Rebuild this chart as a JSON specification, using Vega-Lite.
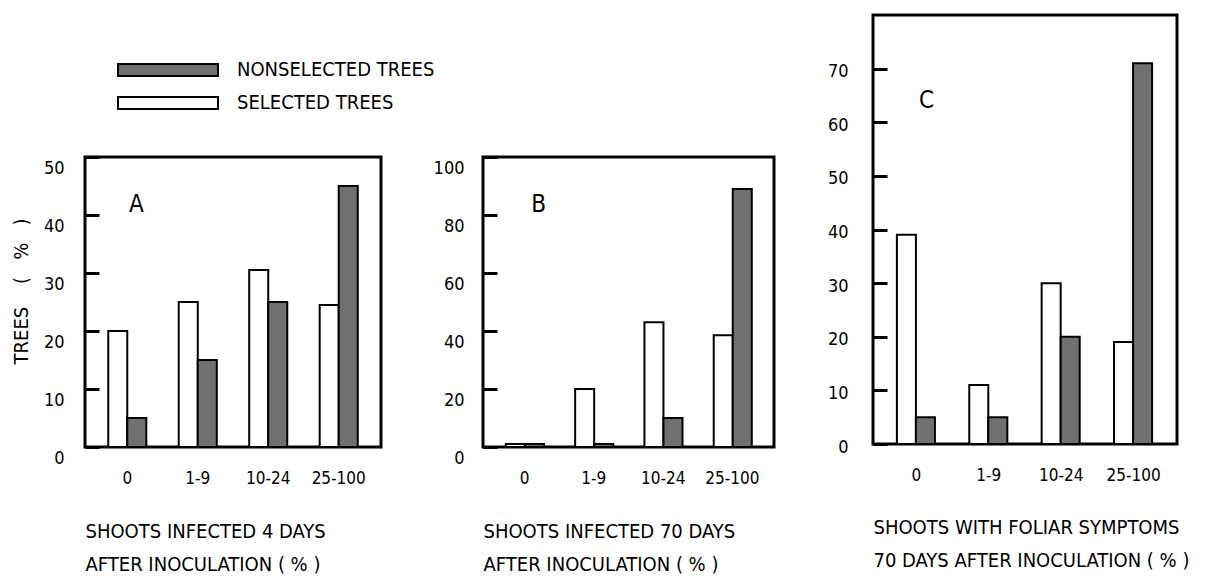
{
  "$schema": "https://vega.github.io/schema/vega-lite/v6.json",
  "padding": {"left": 9, "top": 13, "right": 5, "bottom": 5},
  "background": "white",
  "datasets": {
    "bars": [
      {"panel": "A", "cat": "0", "series": "SELECTED TREES", "pct": 20},
      {"panel": "A", "cat": "0", "series": "NONSELECTED TREES", "pct": 5},
      {"panel": "A", "cat": "1-9", "series": "SELECTED TREES", "pct": 25},
      {"panel": "A", "cat": "1-9", "series": "NONSELECTED TREES", "pct": 15},
      {"panel": "A", "cat": "10-24", "series": "SELECTED TREES", "pct": 30.5},
      {"panel": "A", "cat": "10-24", "series": "NONSELECTED TREES", "pct": 25},
      {"panel": "A", "cat": "25-100", "series": "SELECTED TREES", "pct": 24.5},
      {"panel": "A", "cat": "25-100", "series": "NONSELECTED TREES", "pct": 45},
      {"panel": "B", "cat": "0", "series": "SELECTED TREES", "pct": 1},
      {"panel": "B", "cat": "0", "series": "NONSELECTED TREES", "pct": 1},
      {"panel": "B", "cat": "1-9", "series": "SELECTED TREES", "pct": 20},
      {"panel": "B", "cat": "1-9", "series": "NONSELECTED TREES", "pct": 1},
      {"panel": "B", "cat": "10-24", "series": "SELECTED TREES", "pct": 43},
      {"panel": "B", "cat": "10-24", "series": "NONSELECTED TREES", "pct": 10},
      {"panel": "B", "cat": "25-100", "series": "SELECTED TREES", "pct": 38.5},
      {"panel": "B", "cat": "25-100", "series": "NONSELECTED TREES", "pct": 89},
      {"panel": "C", "cat": "0", "series": "SELECTED TREES", "pct": 39},
      {"panel": "C", "cat": "0", "series": "NONSELECTED TREES", "pct": 5},
      {"panel": "C", "cat": "1-9", "series": "SELECTED TREES", "pct": 11},
      {"panel": "C", "cat": "1-9", "series": "NONSELECTED TREES", "pct": 5},
      {"panel": "C", "cat": "10-24", "series": "SELECTED TREES", "pct": 30},
      {"panel": "C", "cat": "10-24", "series": "NONSELECTED TREES", "pct": 20},
      {"panel": "C", "cat": "25-100", "series": "SELECTED TREES", "pct": 19},
      {"panel": "C", "cat": "25-100", "series": "NONSELECTED TREES", "pct": 71}
    ],
    "letters": [
      {"panel": "A", "cat": "0", "pct": 41.7, "label": "A"},
      {"panel": "B", "cat": "0", "pct": 83.5, "label": "B"},
      {"panel": "C", "cat": "0", "pct": 64, "label": "C"}
    ]
  },
  "config": {
    "font": "DejaVu Sans Condensed, DejaVu Sans, sans-serif",
    "view": {"stroke": "black", "strokeWidth": 3},
    "axis": {
      "labelColor": "black", "titleColor": "black",
      "labelFontSize": 18, "titleFontSize": 20, "titleFontWeight": "normal",
      "grid": false, "domain": false
    },
    "axisX": {
      "labelAngle": 0, "ticks": false, "labelFontSize": 17, "labelPadding": 23,
      "titleAnchor": "start", "titleAlign": "left", "titleLineHeight": 33, "titlePadding": 35
    },
    "axisY": {
      "labelLimit": 0
    },
    "legend": {
      "labelColor": "black", "labelFontSize": 20, "labelLimit": 0
    }
  },
  "hconcat": [
    {
      "vconcat": [
        {
          "data": {"values": []},
          "mark": {"type": "point", "opacity": 0},
          "encoding": {},
          "width": 10, "height": 139,
          "view": {"stroke": null}
        },
        {
          "hconcat": [
            {
              "width": 296, "height": 290,
              "layer": [
                {
                  "data": {"name": "bars"},
                  "transform": [{"filter": "datum.panel === 'A'"}],
                  "mark": {"type": "bar", "stroke": "black", "strokeWidth": 2},
                  "encoding": {
                    "x": {"field": "cat", "type": "nominal", "sort": ["0", "1-9", "10-24", "25-100"],
                      "scale": {"paddingInner": 0.46, "paddingOuter": 0.33},
                      "axis": {"title": ["SHOOTS INFECTED 4 DAYS", "AFTER INOCULATION ( % )"]}},
                    "xOffset": {"field": "series", "type": "nominal", "sort": ["SELECTED TREES", "NONSELECTED TREES"], "scale": {"paddingInner": 0, "paddingOuter": 0}},
                    "y": {"field": "pct", "type": "quantitative", "scale": {"domain": [0, 50]},
                      "axis": {"values": [0, 10, 20, 30, 40, 50], "ticks": true, "tickSize": 14, "tickColor": "black", "tickWidth": 3, "offset": -14, "zindex": 2, "labelPadding": 21, "labelBaseline": "top", "labelOffset": 2, "title": "TREES\u00a0\u00a0\u00a0 (\u00a0\u00a0 %\u00a0\u00a0 )", "titlePadding": 12, "titleY": 134}},
                    "fill": {"field": "series", "type": "nominal",
                      "scale": {"domain": ["NONSELECTED TREES", "SELECTED TREES"], "range": ["#707070", "#ffffff"]},
                      "legend": {"title": null, "orient": "none", "legendX": 73, "legendY": 45, "symbolType": "M-10,-1.2H10V1.2H-10Z", "symbolSize": 100, "symbolStrokeColor": "black", "symbolStrokeWidth": 2, "symbolOpacity": 1, "labelOffset": 59, "rowPadding": 13}}
                  }
                },
                {
                  "data": {"name": "letters"},
                  "transform": [{"filter": "datum.panel === 'A'"}],
                  "mark": {"type": "text", "fontSize": 24, "dx": 9, "color": "black"},
                  "encoding": {
                    "x": {"field": "cat", "type": "nominal"},
                    "y": {"field": "pct", "type": "quantitative"},
                    "text": {"field": "label"}
                  }
                }
              ]
            },
            {
              "width": 291, "height": 290,
              "layer": [
                {
                  "data": {"name": "bars"},
                  "transform": [{"filter": "datum.panel === 'B'"}],
                  "mark": {"type": "bar", "stroke": "black", "strokeWidth": 2},
                  "encoding": {
                    "x": {"field": "cat", "type": "nominal", "sort": ["0", "1-9", "10-24", "25-100"],
                      "scale": {"paddingInner": 0.46, "paddingOuter": 0.33},
                      "axis": {"title": ["SHOOTS INFECTED 70 DAYS", "AFTER INOCULATION ( % )"]}},
                    "xOffset": {"field": "series", "type": "nominal", "sort": ["SELECTED TREES", "NONSELECTED TREES"], "scale": {"paddingInner": 0, "paddingOuter": 0}},
                    "y": {"field": "pct", "type": "quantitative", "scale": {"domain": [0, 100]},
                      "axis": {"values": [0, 20, 40, 60, 80, 100], "ticks": true, "tickSize": 14, "tickColor": "black", "tickWidth": 3, "offset": -14, "zindex": 2, "labelPadding": 19, "labelBaseline": "top", "labelOffset": 2, "title": null}},
                    "fill": {"field": "series", "type": "nominal"}
                  }
                },
                {
                  "data": {"name": "letters"},
                  "transform": [{"filter": "datum.panel === 'B'"}],
                  "mark": {"type": "text", "fontSize": 24, "dx": 14, "color": "black"},
                  "encoding": {
                    "x": {"field": "cat", "type": "nominal"},
                    "y": {"field": "pct", "type": "quantitative"},
                    "text": {"field": "label"}
                  }
                }
              ]
            }
          ],
          "spacing": 48
        }
      ],
      "spacing": 0
    },
    {
      "width": 304, "height": 429,
      "layer": [
        {
          "data": {"name": "bars"},
          "transform": [{"filter": "datum.panel === 'C'"}],
          "mark": {"type": "bar", "stroke": "black", "strokeWidth": 2},
          "encoding": {
            "x": {"field": "cat", "type": "nominal", "sort": ["0", "1-9", "10-24", "25-100"],
              "scale": {"paddingInner": 0.46, "paddingOuter": 0.33},
              "axis": {"title": ["SHOOTS WITH FOLIAR SYMPTOMS", "70 DAYS AFTER INOCULATION ( % )"], "titlePadding": 34}},
            "xOffset": {"field": "series", "type": "nominal", "sort": ["SELECTED TREES", "NONSELECTED TREES"], "scale": {"paddingInner": 0, "paddingOuter": 0}},
            "y": {"field": "pct", "type": "quantitative", "scale": {"domain": [0, 74]},
              "axis": {"values": [0, 10, 20, 30, 40, 50, 60, 70], "ticks": true, "tickSize": 14, "tickColor": "black", "tickWidth": 3, "offset": -14, "zindex": 2, "labelPadding": 25, "labelOffset": 3, "title": null}},
            "fill": {"field": "series", "type": "nominal"}
          }
        },
        {
          "data": {"name": "letters"},
          "transform": [{"filter": "datum.panel === 'C'"}],
          "mark": {"type": "text", "fontSize": 24, "dx": 10, "color": "black"},
          "encoding": {
            "x": {"field": "cat", "type": "nominal"},
            "y": {"field": "pct", "type": "quantitative"},
            "text": {"field": "label"}
          }
        }
      ]
    }
  ],
  "spacing": 49
}
